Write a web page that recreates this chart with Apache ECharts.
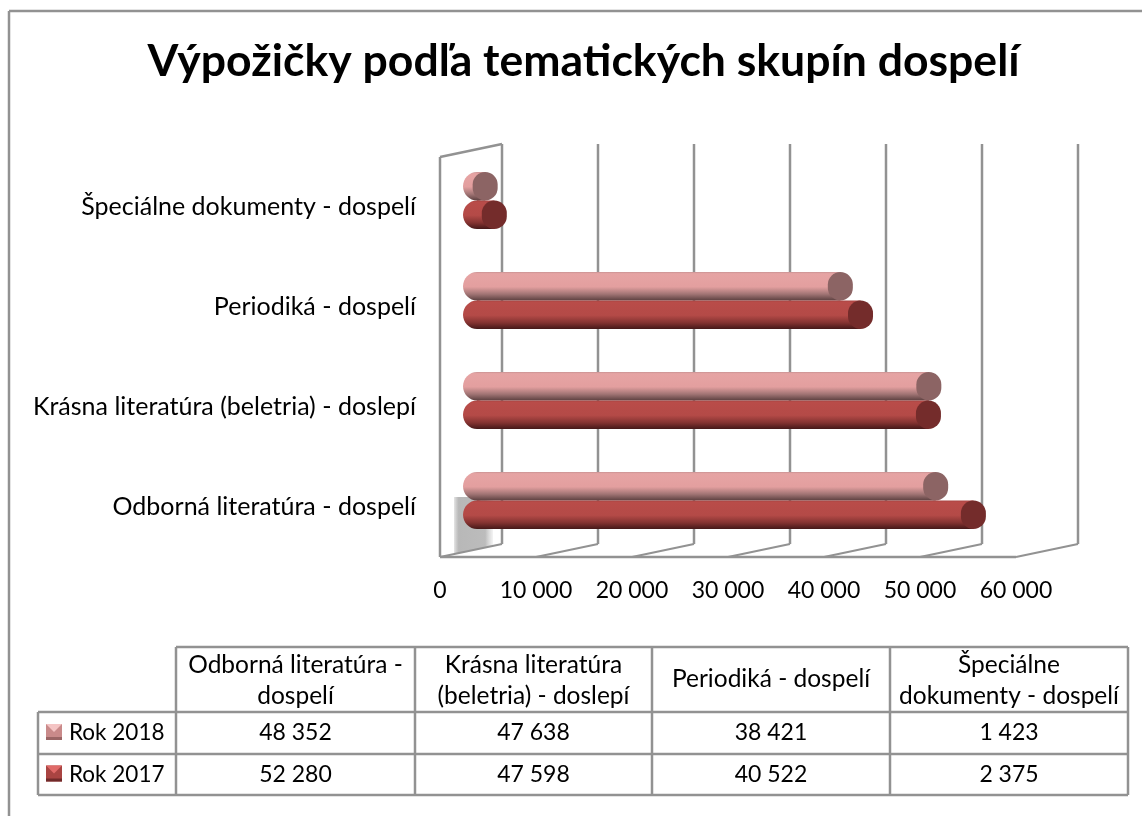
<!DOCTYPE html>
<html lang="sk">
<head>
    <meta charset="UTF-8">
    <title>Výpožičky podľa tematických skupín dospelí</title>
    <style>
        html, body { margin: 0; padding: 0; background: #fff; }
        #main { width: 1142px; height: 816px; }
    </style>
</head>
<body>
<div id="main"></div>
<script src="https://cdn.jsdelivr.net/npm/echarts@6/dist/echarts.min.js"></script>
<script>
    var categories = ['Odborná literatúra - dospelí', 'Krásna literatúra (beletria) - doslepí', 'Periodiká - dospelí', 'Špeciálne dokumenty - dospelí'];
    var tableHeaders = [['Odborná literatúra -', 'dospelí'], ['Krásna literatúra', '(beletria) - doslepí'], ['Periodiká - dospelí'], ['Špeciálne', 'dokumenty - dospelí']];
    var seriesNames = ['Rok 2018', 'Rok 2017'];
    var values2018 = [48352, 47638, 38421, 1423];
    var values2017 = [52280, 47598, 40522, 2375];
    var ticks = [0, 10000, 20000, 30000, 40000, 50000, 60000];

    var FONT = 'Lato';
    var GREY = '#929292';
    // 3D depth of the plot, the bars sit half way in
    var DEPTH_X = 62, DEPTH_Y = 13;
    var BAR_H = 28.5, CAP_RX = 12.5, START_RX = 14;

    var looks = [
        { stops: [[0, '#c99393'], [0.06, '#e6a4a4'], [0.52, '#e39f9f'], [0.78, '#a07474'], [1, '#5c4040']], cap: '#8c6464', key: '#c98a8a', keyLight: '#f4c4c4', keyDark: '#9a6565' },
        { stops: [[0, '#a84442'], [0.06, '#b94c49'], [0.52, '#b44a47'], [0.78, '#843331'], [1, '#451818']], cap: '#742c2b', key: '#a94442', keyLight: '#e06a68', keyDark: '#702a2a' }
    ];

    function fmt(v) {
        return String(v).replace(/\B(?=(\d{3})+$)/g, ' ');
    }

    function gradient(stops) {
        return new echarts.graphic.LinearGradient(0, 0, 0, 1, stops.map(function (s) {
            return { offset: s[0], color: s[1] };
        }));
    }

    function wallItem(params, api) {
        var cs = params.coordSys;
        var x = api.coord([api.value(0), 0])[0];
        var top = cs.y, bottom = cs.y + cs.height;
        var style = { stroke: GREY, lineWidth: 2.5, fill: null };
        var children = [
            { type: 'line', shape: { x1: x + DEPTH_X, y1: top - DEPTH_Y, x2: x + DEPTH_X, y2: bottom - DEPTH_Y }, style: style },
            { type: 'line', shape: { x1: x, y1: bottom, x2: x + DEPTH_X, y2: bottom - DEPTH_Y }, style: { stroke: GREY, lineWidth: 2 } }
        ];
        if (params.dataIndex === 0) {
            children.push({ type: 'line', shape: { x1: x, y1: top, x2: x, y2: bottom }, style: style });
            children.push({ type: 'line', shape: { x1: x, y1: top, x2: x + DEPTH_X, y2: top - DEPTH_Y }, style: style });
            children.push({ type: 'line', shape: { x1: x, y1: bottom, x2: cs.x + cs.width, y2: bottom }, style: style });
        }
        return { type: 'group', children: children };
    }

    function cylinderItem(look, side) {
        return function (params, api) {
            var end = api.coord([api.value(0), api.value(1)]);
            var zero = api.coord([0, api.value(1)]);
            var dx = DEPTH_X / 2 + 0.5, dy = -DEPTH_Y / 2;
            var cy = end[1] + dy + side * BAR_H / 2;
            var startX = zero[0] + dx - 8.5 + START_RX, endX = end[0] + dx;
            var fill = gradient(look.stops);
            return {
                type: 'group',
                children: [
                    { type: 'ellipse', shape: { cx: startX, cy: cy, rx: START_RX, ry: BAR_H / 2 }, style: { fill: fill } },
                    { type: 'rect', shape: { x: startX, y: cy - BAR_H / 2, width: Math.max(endX - startX, 0), height: BAR_H }, style: { fill: fill } },
                    { type: 'rect', shape: { x: endX - CAP_RX, y: cy - BAR_H / 2, width: CAP_RX * 2, height: BAR_H, r: CAP_RX }, style: { fill: look.cap } }
                ]
            };
        };
    }

    // table under the chart
    function tableGraphic() {
        var cols = [176, 415, 652, 890, 1128];
        var rows = [647, 712, 754, 795];
        var left = 38;
        var out = [];
        function line(x1, y1, x2, y2) {
            out.push({ type: 'line', shape: { x1: x1, y1: y1, x2: x2, y2: y2 }, style: { stroke: GREY, lineWidth: 2.5 } });
        }
        function text(str, x, y, size, align) {
            out.push({ type: 'text', x: x, y: y, style: { text: str, font: size + 'px ' + FONT, fill: '#000', textAlign: align || 'center', textVerticalAlign: 'middle' } });
        }
        cols.forEach(function (x) { line(x, rows[0], x, rows[3]); });
        line(cols[0], rows[0], cols[4], rows[0]);
        rows.slice(1).forEach(function (y) { line(left, y, cols[4], y); });
        line(left, rows[1], left, rows[3]);

        tableHeaders.forEach(function (h, i) {
            var cx = (cols[i] + cols[i + 1]) / 2;
            if (h.length === 1) {
                text(h[0], cx, 679, 24.5);
            } else {
                text(h[0], cx, 665, 24.5);
                text(h[1], cx, 696, 24.5);
            }
        });
        [values2018, values2017].forEach(function (vals, r) {
            var cy = (rows[r + 1] + rows[r + 2]) / 2;
            var look = looks[r];
            var kx = 46, ky = cy - 9;
            out.push({ type: 'rect', shape: { x: kx, y: ky, width: 16, height: 16 }, style: { fill: look.key } });
            out.push({ type: 'polygon', shape: { points: [[kx, ky], [kx + 16, ky], [kx + 8, ky + 8]] }, style: { fill: look.keyLight } });
            out.push({ type: 'rect', shape: { x: kx, y: ky + 13, width: 16, height: 3 }, style: { fill: look.keyDark } });
            text(seriesNames[r], 69, cy, 22.5, 'left');
            vals.forEach(function (v, i) {
                text(fmt(v), (cols[i] + cols[i + 1]) / 2, cy, 23);
            });
        });
        return out;
    }

    var myChart = echarts.init(document.getElementById('main'), null, { renderer: 'canvas' });

    var option = {
        backgroundColor: '#fff',
        animation: false,
        title: {
            text: 'Výpožičky podľa tematických skupín dospelí',
            left: 578.5,
            top: 34,
            textAlign: 'center',
            textStyle: { fontFamily: FONT, fontWeight: 'bold', fontSize: 44.5, color: '#000' }
        },
        grid: { left: 440, top: 157, width: 576, height: 400 },
        xAxis: {
            type: 'value',
            min: 0,
            max: 60000,
            interval: 10000,
            axisLine: { show: false },
            axisTick: { show: false },
            splitLine: { show: false },
            axisLabel: { margin: 22, color: '#000', fontFamily: FONT, fontSize: 23, formatter: fmt }
        },
        yAxis: {
            type: 'category',
            data: categories,
            axisLine: { show: false },
            axisTick: { show: false },
            axisLabel: { margin: 24, color: '#000', fontFamily: FONT, fontSize: 25, padding: [3, 0, 0, 0] }
        },
        graphic: [
            // frame, only left and top are in the picture
            { type: 'line', shape: { x1: 9, y1: 11, x2: 9, y2: 816 }, style: { stroke: GREY, lineWidth: 2.5 } },
            { type: 'line', shape: { x1: 9, y1: 11, x2: 1142, y2: 11 }, style: { stroke: GREY, lineWidth: 2.5 } },
            // bar shadow on the floor
            {
                type: 'polygon',
                shape: { points: [[454, 497], [493, 497], [493, 546], [454, 554]] },
                style: {
                    fill: new echarts.graphic.LinearGradient(0, 0, 1, 0, [
                        { offset: 0, color: 'rgba(170,170,170,0.3)' },
                        { offset: 0.12, color: '#b8b8b8' },
                        { offset: 0.8, color: '#bcbcbc' },
                        { offset: 1, color: 'rgba(200,200,200,0.2)' }
                    ])
                }
            }
        ].concat(tableGraphic()),
        series: [
            {
                type: 'custom',
                name: 'wall',
                silent: true,
                z: 2,
                encode: { x: 0 },
                data: ticks.map(function (t) { return [t]; }),
                renderItem: wallItem
            },
            {
                type: 'custom',
                name: seriesNames[0],
                z: 3,
                encode: { x: 0, y: 1 },
                data: values2018.map(function (v, i) { return [v, i]; }),
                renderItem: cylinderItem(looks[0], -1)
            },
            {
                type: 'custom',
                name: seriesNames[1],
                z: 4,
                encode: { x: 0, y: 1 },
                data: values2017.map(function (v, i) { return [v, i]; }),
                renderItem: cylinderItem(looks[1], 1)
            }
        ]
    };

    myChart.setOption(option);
</script>
</body>
</html>
